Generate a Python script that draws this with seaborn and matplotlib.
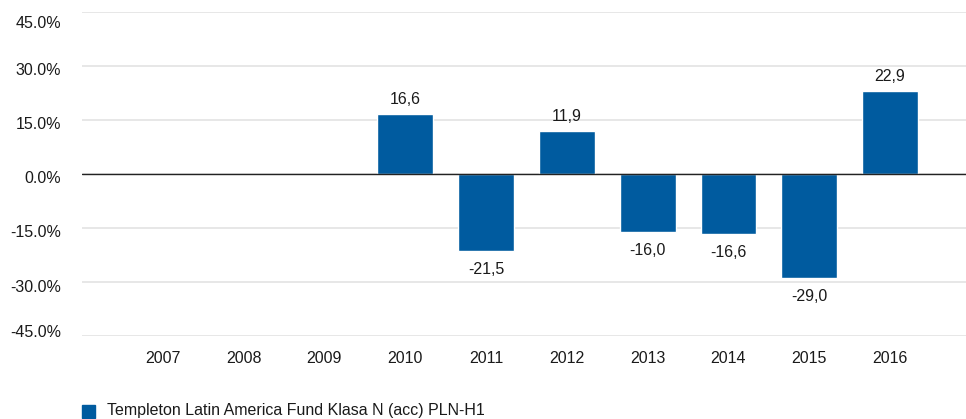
import matplotlib
matplotlib.use("Agg")
import matplotlib.pyplot as plt
import matplotlib.transforms as mtransforms
import seaborn as sns
import pandas as pd
import numpy as np

# data
years = ["2007", "2008", "2009", "2010", "2011", "2012", "2013", "2014", "2015", "2016"]
returns = [np.nan, np.nan, np.nan, 16.6, -21.5, 11.9, -16.0, -16.6, -29.0, 22.9]
series_name = "Templeton Latin America Fund Klasa N (acc) PLN-H1"
yticks = [-45, -30, -15, 0, 15, 30, 45]

sns.set_style("white")
plt.rcParams["font.family"] = ["Liberation Sans", "DejaVu Sans"]
fs = 11.5

df = pd.DataFrame({"year": years, "ret": returns})
blue = "#005b9f"
ink = "#1a1a1a"

fig = plt.figure(figsize=(9.66, 4.19), dpi=100)
ax = fig.add_axes([82 / 966, 1 - 336 / 419, 884 / 966, (336 - 11.7) / 419])

sns.barplot(data=df, x="year", y="ret", color=blue, width=0.69, saturation=1, ax=ax, zorder=3)

ax.set_ylim(-45, 45)
ax.set_xlim(-1.0, 9.94)
ax.set_yticks(yticks)
ax.set_yticklabels([f"{t:.1f}%" for t in yticks])
ax.yaxis.grid(True, color="#e3e3e3", linewidth=1.2, zorder=0)
ax.axhline(0, color="#222222", linewidth=1, zorder=4)
for s in ax.spines.values():
    s.set_visible(False)
ax.tick_params(axis="both", length=0, labelsize=fs, colors=ink)
ax.tick_params(axis="y", pad=15)
ax.tick_params(axis="x", pad=11)
ax.set_xlabel("")
ax.set_ylabel("")

# y labels sit a little off their gridlines in the original
shifts = {-45: 5, -30: -4, -15: -3, 0: -3, 15: -3, 30: -3, 45: -10}
for t, lab in zip(yticks, ax.get_yticklabels()):
    lab.set_transform(lab.get_transform() +
                      mtransforms.ScaledTranslation(0, shifts[t] / 100, fig.dpi_scale_trans))

for i, v in enumerate(returns):
    if np.isnan(v):
        continue
    txt = f"{v:.1f}".replace(".", ",")
    if v >= 0:
        ax.annotate(txt, (i, v), xytext=(0, 5), textcoords="offset points",
                    ha="center", va="bottom", fontsize=fs, color=ink)
    else:
        ax.annotate(txt, (i, v), xytext=(0, -8), textcoords="offset points",
                    ha="center", va="top", fontsize=fs, color=ink)

# legend
fig.patches.append(plt.Rectangle((82 / 966, 1 - 418 / 419), 13 / 966, 13 / 419,
                                 transform=fig.transFigure, color=blue))
fig.text(107 / 966, 1 - 410 / 419, series_name, ha="left", va="center",
         fontsize=fs, color=ink)

fig.savefig("out.png", dpi=100)
